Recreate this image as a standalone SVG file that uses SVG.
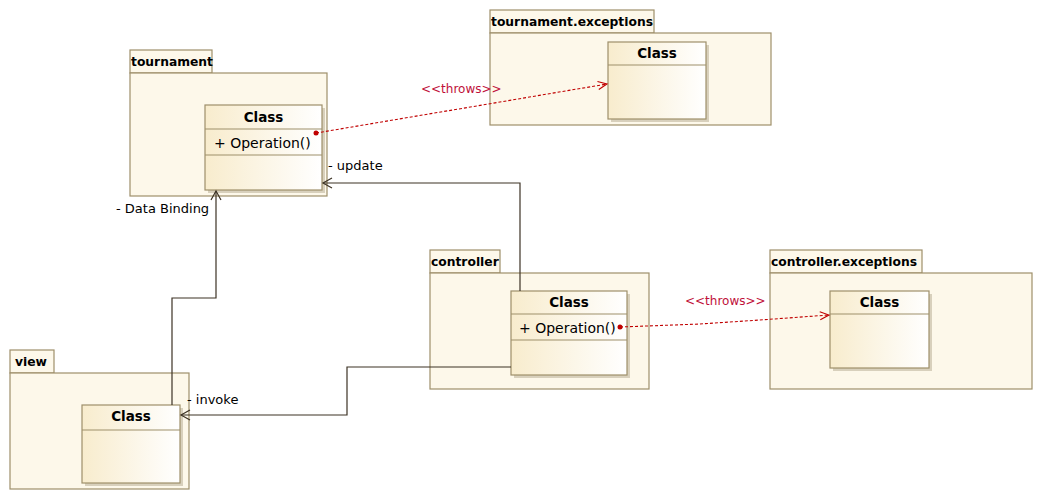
<svg xmlns="http://www.w3.org/2000/svg" width="1042" height="500" viewBox="0 0 1042 500">
<style>
.pkg{fill:#fdf8ea;stroke:#9e8f6a;stroke-width:1.2}
.cls{fill:url(#cg);stroke:#9e8f6a;stroke-width:1.2}
.shd{fill:#d8d0bc}
.div{stroke:#9e8f6a;stroke-width:1.2}
.pt{font-family:"DejaVu Sans",sans-serif;font-weight:bold;font-size:12.3px;fill:#000}
.ct{font-family:"DejaVu Sans",sans-serif;font-weight:bold;font-size:13.5px;fill:#000;text-anchor:middle}
.op{font-family:"DejaVu Sans",sans-serif;font-size:14px;fill:#000}
.lbl{font-family:"DejaVu Sans",sans-serif;font-size:13px;fill:#000}
.thr{font-family:"DejaVu Sans",sans-serif;font-size:12px;fill:#c0103a}
.ln{fill:none;stroke:#3d3325;stroke-width:1.2}
.dl{fill:none;stroke:#c00000;stroke-width:1.1;stroke-dasharray:3,2}
</style>
<defs>
<linearGradient id="cg" x1="0" y1="0" x2="1" y2="0">
<stop offset="0" stop-color="#f8eccd"/>
<stop offset="1" stop-color="#ffffff"/>
</linearGradient>
<marker id="oa" markerWidth="12" markerHeight="12" refX="10" refY="6" orient="auto" markerUnits="userSpaceOnUse">
<path d="M1,1 L10,6 L1,11" fill="none" stroke="#3d3325" stroke-width="1.2"/>
</marker>
<marker id="ra" markerWidth="12" markerHeight="12" refX="10" refY="6" orient="auto" markerUnits="userSpaceOnUse">
<path d="M1,2 L10,6 L1,10" fill="none" stroke="#c00000" stroke-width="1.1"/>
</marker>
</defs>

<g id="pkg-tournament">
<rect class="pkg" x="130" y="50" width="82" height="23"/>
<rect class="pkg" x="130" y="73" width="197" height="123"/>
<text class="pt" x="131" y="66">tournament</text>
<rect class="shd" x="208" y="108" width="117" height="85"/>
<rect class="cls" x="205" y="105" width="117" height="85"/>
<line class="div" x1="205" y1="129" x2="322" y2="129"/>
<line class="div" x1="205" y1="155" x2="322" y2="155"/>
<text class="ct" x="263.5" y="122">Class</text>
<text class="op" x="214" y="148">+ Operation()</text>
</g>

<g id="pkg-tournament-exceptions">
<rect class="pkg" x="490" y="10" width="164" height="23"/>
<rect class="pkg" x="490" y="33" width="281" height="92"/>
<text class="pt" x="491" y="26">tournament.exceptions</text>
<rect class="shd" x="611" y="45" width="98" height="77"/>
<rect class="cls" x="608" y="42" width="98" height="77"/>
<line class="div" x1="608" y1="65" x2="706" y2="65"/>
<text class="ct" x="657" y="58">Class</text>
</g>

<g id="pkg-controller">
<rect class="pkg" x="430" y="250" width="70" height="23"/>
<rect class="pkg" x="430" y="273" width="219" height="116"/>
<text class="pt" x="431" y="266">controller</text>
<rect class="shd" x="514" y="294" width="116" height="84"/>
<rect class="cls" x="511" y="291" width="116" height="84"/>
<line class="div" x1="511" y1="314" x2="627" y2="314"/>
<line class="div" x1="511" y1="340" x2="627" y2="340"/>
<text class="ct" x="569" y="307">Class</text>
<text class="op" x="519" y="333">+ Operation()</text>
</g>

<g id="pkg-controller-exceptions">
<rect class="pkg" x="770" y="250" width="152" height="23"/>
<rect class="pkg" x="770" y="273" width="262" height="116"/>
<text class="pt" x="771" y="266">controller.exceptions</text>
<rect class="shd" x="833" y="294" width="99" height="77"/>
<rect class="cls" x="830" y="291" width="99" height="77"/>
<line class="div" x1="830" y1="314" x2="929" y2="314"/>
<text class="ct" x="879.5" y="307">Class</text>
</g>

<g id="pkg-view">
<rect class="pkg" x="10" y="350" width="44" height="23"/>
<rect class="pkg" x="10" y="373" width="179" height="116"/>
<text class="pt" x="15" y="366">view</text>
<rect class="shd" x="85" y="408" width="98" height="78"/>
<rect class="cls" x="82" y="405" width="98" height="78"/>
<line class="div" x1="82" y1="430" x2="180" y2="430"/>
<text class="ct" x="131" y="421">Class</text>
</g>

<g id="connectors">
<polyline class="ln" points="520,291 520,183 323,183" marker-end="url(#oa)"/>
<polyline class="ln" points="172,405 172,298 216,298 216,191" marker-end="url(#oa)"/>
<polyline class="ln" points="511,367 347,367 347,415 181,415" marker-end="url(#oa)"/>
<line class="dl" x1="316" y1="133" x2="607" y2="84" marker-end="url(#ra)"/>
<circle cx="316" cy="133" r="2.5" fill="#c00000"/>
<polyline class="dl" points="620,327 700,324 760,320 829,315" marker-end="url(#ra)"/>
<circle cx="620" cy="327" r="2.5" fill="#c00000"/>
<text class="lbl" x="328" y="170">- update</text>
<text class="lbl" x="116" y="213">- Data Binding</text>
<text class="lbl" x="187" y="404">- invoke</text>
<text class="thr" x="421" y="93">&lt;&lt;throws&gt;&gt;</text>
<text class="thr" x="685" y="305">&lt;&lt;throws&gt;&gt;</text>
</g>
</svg>
